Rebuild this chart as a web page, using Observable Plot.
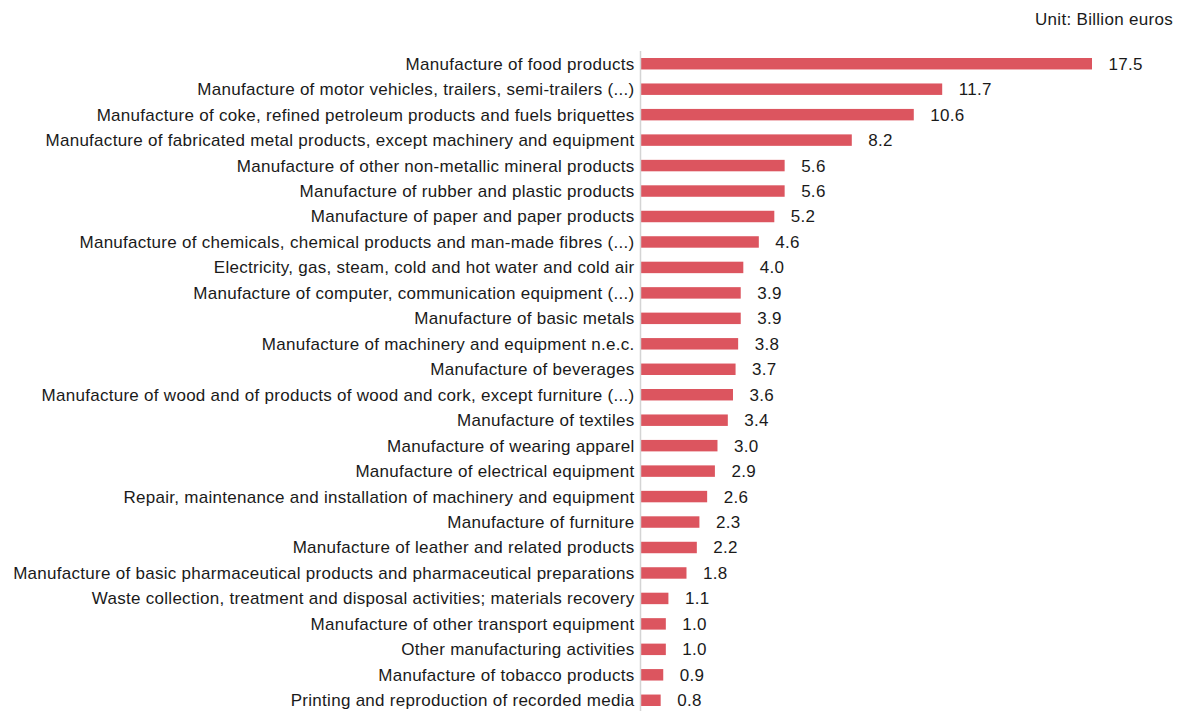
<!DOCTYPE html>
<html>
<head>
<meta charset="utf-8">
<script src="https://cdn.jsdelivr.net/npm/d3@7"></script>
<script src="https://cdn.jsdelivr.net/npm/@observablehq/plot@0.6"></script>
<style>
  html, body { margin: 0; padding: 0; background: #fff; overflow: hidden; }
  #unit { height: 38px; width: 1186px; position: relative; font-family: "Liberation Sans", Arial, sans-serif; font-size: 17px; letter-spacing: 0.3px; color: #1a1a1a; line-height: 20px; }
  #unit span { position: absolute; right: 13px; top: 10px; }
  #chart svg text { letter-spacing: 0.28px; }
</style>
</head>
<body>
<div id="unit"><span>Unit: Billion euros</span></div>
<div id="chart"></div>
<script>
const categories = [
  "Manufacture of food products",
  "Manufacture of motor vehicles, trailers, semi-trailers (...)",
  "Manufacture of coke, refined petroleum products and fuels briquettes",
  "Manufacture of fabricated metal products, except machinery and equipment",
  "Manufacture of other non-metallic mineral products",
  "Manufacture of rubber and plastic products",
  "Manufacture of paper and paper products",
  "Manufacture of chemicals, chemical products and man-made fibres (...)",
  "Electricity, gas, steam, cold and hot water and cold air",
  "Manufacture of computer, communication equipment (...)",
  "Manufacture of basic metals",
  "Manufacture of machinery and equipment n.e.c.",
  "Manufacture of beverages",
  "Manufacture of wood and of products of wood and cork, except furniture (...)",
  "Manufacture of textiles",
  "Manufacture of wearing apparel",
  "Manufacture of electrical equipment",
  "Repair, maintenance and installation of machinery and equipment",
  "Manufacture of furniture",
  "Manufacture of leather and related products",
  "Manufacture of basic pharmaceutical products and pharmaceutical preparations",
  "Waste collection, treatment and disposal activities; materials recovery",
  "Manufacture of other transport equipment",
  "Other manufacturing activities",
  "Manufacture of tobacco products",
  "Printing and reproduction of recorded media"
];
const values = [17.5, 11.7, 10.6, 8.2, 5.6, 5.6, 5.2, 4.6, 4.0, 3.9, 3.9, 3.8, 3.7, 3.6, 3.4, 3.0, 2.9, 2.6, 2.3, 2.2, 1.8, 1.1, 1.0, 1.0, 0.9, 0.8];
const valueLabels = values.map(v => v.toFixed(1));

const data = categories.map((c, i) => ({category: c, value: values[i], label: valueLabels[i]}));

const chart = Plot.plot({
  width: 1186,
  height: 675,
  marginLeft: 640,
  marginRight: 94,
  marginTop: 13,
  marginBottom: 0,
  style: {fontFamily: "'Liberation Sans', Arial, sans-serif", fontSize: "17px", color: "#1a1a1a", background: "#fff"},
  x: {domain: [0, 17.5], axis: null},
  y: {domain: categories, paddingInner: 0.55, paddingOuter: 0.275, round: false, label: null},
  marks: [
    Plot.barX(data, {x: "value", y: "category", fill: "#DC555F"}),
    Plot.ruleX([0], {stroke: "#d4d4d4", strokeWidth: 1.5}),
    Plot.axisY({tickSize: 0, tickPadding: 6, label: null, fontSize: 17}),
    Plot.text(data, {x: "value", y: "category", text: "label", textAnchor: "start", dx: 16, fontSize: 17, fill: "#1a1a1a"})
  ]
});
document.getElementById("chart").appendChild(chart);
</script>
</body>
</html>
